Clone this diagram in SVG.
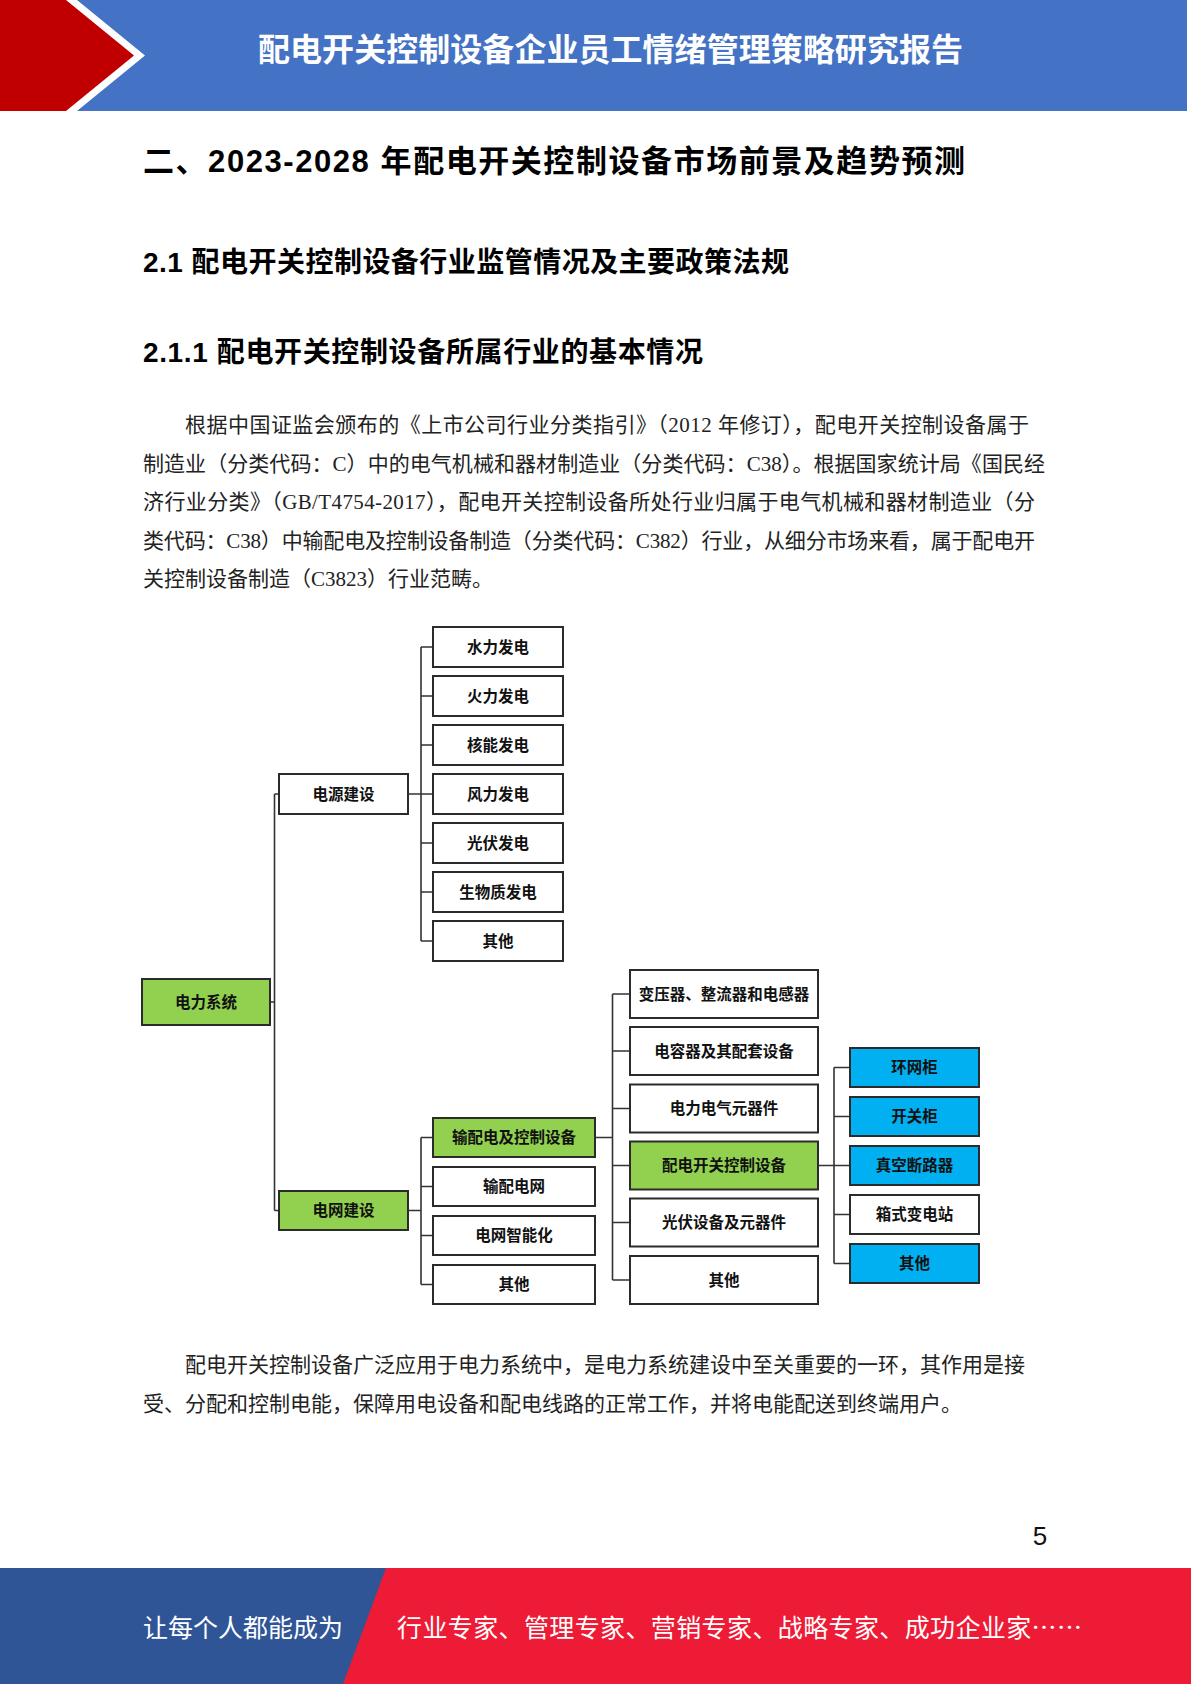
<svg xmlns="http://www.w3.org/2000/svg" width="1191" height="1684" viewBox="0 0 1191 1684">
<style>
.hdr{font-family:"Noto Sans CJK SC",sans-serif;font-weight:bold;font-size:32px;fill:#fff}
.h{font-family:"Liberation Sans","Noto Sans CJK SC",sans-serif;font-weight:bold;fill:#000}
.p{font-family:"Liberation Serif","Noto Sans CJK SC",serif;font-size:21px;fill:#222}
.box{stroke:#2b2b2b;stroke-width:2}
.w{fill:#fff}.g{fill:#92D050}.b{fill:#00B0F0}
.bt{font-family:"Liberation Serif","Noto Sans CJK SC",serif;font-weight:bold;font-size:15.5px;fill:#111;text-anchor:middle}
.conn{fill:none;stroke:#333;stroke-width:1.6}
.ft{font-family:"Noto Sans CJK SC",sans-serif;font-size:25px;fill:#fff}
</style>
<rect width="1191" height="1684" fill="#fff"/>
<!-- header -->
<polygon points="0,0 66,0 134,55.5 66,111 0,111" fill="#C00000"/>
<polygon points="77,0 1187,0 1187,111 77,111 145,55.5" fill="#4472C4"/>
<text class="hdr" x="258" y="61" textLength="705" lengthAdjust="spacing">配电开关控制设备企业员工情绪管理策略研究报告</text>
<!-- headings -->
<text class="h" x="143" y="171.5" font-size="31" textLength="822" lengthAdjust="spacing">二、2023-2028 年配电开关控制设备市场前景及趋势预测</text>
<text class="h" x="143" y="272" font-size="28" textLength="646" lengthAdjust="spacing">2.1 配电开关控制设备行业监管情况及主要政策法规</text>
<text class="h" x="143" y="362" font-size="28" textLength="560" lengthAdjust="spacing">2.1.1 配电开关控制设备所属行业的基本情况</text>
<!-- paragraph 1 -->
<text class="p" x="185" y="432" textLength="844" lengthAdjust="spacing">根据中国证监会颁布的《上市公司行业分类指引》（2012 年修订），配电开关控制设备属于</text>
<text class="p" x="143" y="471" textLength="902" lengthAdjust="spacing">制造业（分类代码：C）中的电气机械和器材制造业（分类代码：C38）。根据国家统计局《国民经</text>
<text class="p" x="143" y="509" textLength="892" lengthAdjust="spacing">济行业分类》（GB/T4754-2017），配电开关控制设备所处行业归属于电气机械和器材制造业（分</text>
<text class="p" x="143" y="548" textLength="892" lengthAdjust="spacing">类代码：C38）中输配电及控制设备制造（分类代码：C382）行业，从细分市场来看，属于配电开</text>
<text class="p" x="143" y="586">关控制设备制造（C3823）行业范畴。</text>
<!-- connectors -->
<g id="connectors" class="conn">
<path d="M270,1002 H274.5 M274.5,794 V1210.5 M274.5,794 H279 M274.5,1210.5 H279"/>
<path d="M408,794 H421 M421,647 V941 M421,647 H433 M421,696 H433 M421,745 H433 M421,794 H433 M421,843 H433 M421,892 H433 M421,941 H433"/>
<path d="M408,1210.5 H421 M421,1137.5 V1284.5 M421,1137.5 H433 M421,1186.5 H433 M421,1235.5 H433 M421,1284.5 H433"/>
<path d="M595,1137.5 H612.5 M612.5,994 V1280 M612.5,994 H630 M612.5,1051 H630 M612.5,1108.5 H630 M612.5,1165.5 H630 M612.5,1222.5 H630 M612.5,1280 H630"/>
<path d="M818,1165.5 H834 M834,1067.5 V1263.5 M834,1067.5 H850 M834,1116.5 H850 M834,1165.5 H850 M834,1214.5 H850 M834,1263.5 H850"/>
</g>
<!-- nodes -->
<g id="n-power-system"><rect class="box g" x="142" y="979" width="128" height="46"/><text class="bt" x="206" y="1007.7">电力系统</text></g>
<g id="n-source"><rect class="box w" x="279" y="774" width="129" height="40"/><text class="bt" x="343.5" y="799.7">电源建设</text></g>
<g id="n-grid"><rect class="box g" x="279" y="1191" width="129" height="39"/><text class="bt" x="343.5" y="1216.2">电网建设</text></g>
<g id="n-hydro"><rect class="box w" x="433" y="627" width="130" height="40"/><text class="bt" x="498" y="652.7">水力发电</text></g>
<g id="n-thermal"><rect class="box w" x="433" y="676" width="130" height="40"/><text class="bt" x="498" y="701.7">火力发电</text></g>
<g id="n-nuclear"><rect class="box w" x="433" y="725" width="130" height="40"/><text class="bt" x="498" y="750.7">核能发电</text></g>
<g id="n-wind"><rect class="box w" x="433" y="774" width="130" height="40"/><text class="bt" x="498" y="799.7">风力发电</text></g>
<g id="n-pv"><rect class="box w" x="433" y="823" width="130" height="40"/><text class="bt" x="498" y="848.7">光伏发电</text></g>
<g id="n-bio"><rect class="box w" x="433" y="872" width="130" height="40"/><text class="bt" x="498" y="897.7">生物质发电</text></g>
<g id="n-other1"><rect class="box w" x="433" y="921" width="130" height="40"/><text class="bt" x="498" y="946.7">其他</text></g>
<g id="n-tdc"><rect class="box g" x="433" y="1118" width="162" height="39"/><text class="bt" x="514" y="1143.2">输配电及控制设备</text></g>
<g id="n-tdgrid"><rect class="box w" x="433" y="1167" width="162" height="39"/><text class="bt" x="514" y="1192.2">输配电网</text></g>
<g id="n-smart"><rect class="box w" x="433" y="1216" width="162" height="39"/><text class="bt" x="514" y="1241.2">电网智能化</text></g>
<g id="n-other2"><rect class="box w" x="433" y="1265" width="162" height="39"/><text class="bt" x="514" y="1290.2">其他</text></g>
<g id="n-transformer"><rect class="box w" x="630" y="970" width="188" height="48"/><text class="bt" x="724" y="999.7">变压器、整流器和电感器</text></g>
<g id="n-capacitor"><rect class="box w" x="630" y="1027" width="188" height="48"/><text class="bt" x="724" y="1056.7">电容器及其配套设备</text></g>
<g id="n-components"><rect class="box w" x="630" y="1084.5" width="188" height="48"/><text class="bt" x="724" y="1114.2">电力电气元器件</text></g>
<g id="n-switchgear"><rect class="box g" x="630" y="1141.5" width="188" height="48"/><text class="bt" x="724" y="1171.2">配电开关控制设备</text></g>
<g id="n-pvequip"><rect class="box w" x="630" y="1198.5" width="188" height="48"/><text class="bt" x="724" y="1228.2">光伏设备及元器件</text></g>
<g id="n-other3"><rect class="box w" x="630" y="1256" width="188" height="48"/><text class="bt" x="724" y="1285.7">其他</text></g>
<g id="n-ring"><rect class="box b" x="850" y="1048" width="129" height="39"/><text class="bt" x="914.5" y="1073.2">环网柜</text></g>
<g id="n-cabinet"><rect class="box b" x="850" y="1097" width="129" height="39"/><text class="bt" x="914.5" y="1122.2">开关柜</text></g>
<g id="n-breaker"><rect class="box b" x="850" y="1146" width="129" height="39"/><text class="bt" x="914.5" y="1171.2">真空断路器</text></g>
<g id="n-box-sub"><rect class="box w" x="850" y="1195" width="129" height="39"/><text class="bt" x="914.5" y="1220.2">箱式变电站</text></g>
<g id="n-other4"><rect class="box b" x="850" y="1244" width="129" height="39"/><text class="bt" x="914.5" y="1269.2">其他</text></g>
<!-- paragraph 2 -->
<text class="p" x="185" y="1372" textLength="840" lengthAdjust="spacing">配电开关控制设备广泛应用于电力系统中，是电力系统建设中至关重要的一环，其作用是接</text>
<text class="p" x="143" y="1411">受、分配和控制电能，保障用电设备和配电线路的正常工作，并将电能配送到终端用户。</text>
<!-- page number -->
<text x="1040" y="1545" font-family="Liberation Sans, sans-serif" font-size="26" fill="#111" text-anchor="middle">5</text>
<!-- footer -->
<rect x="0" y="1568" width="1191" height="116" fill="#EE1B36"/>
<polygon points="0,1568 386,1568 343,1684 0,1684" fill="#2F5597"/>
<text class="ft" x="143" y="1637" textLength="200" lengthAdjust="spacing">让每个人都能成为</text>
<text class="ft" x="397" y="1637" textLength="685" lengthAdjust="spacing">行业专家、管理专家、营销专家、战略专家、成功企业家……</text>
</svg>
